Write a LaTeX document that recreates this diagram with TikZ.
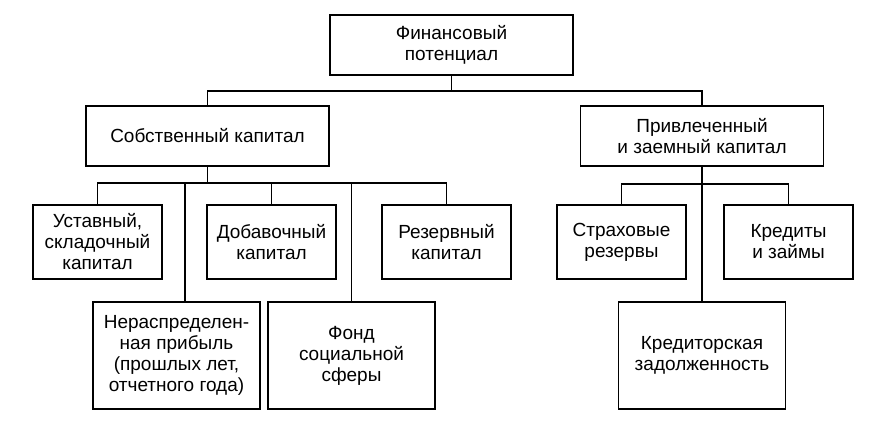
\documentclass[tikz,border=0pt]{standalone}
\usepackage{fontspec}
\setmainfont{Liberation Sans}
\usetikzlibrary{positioning}

\begin{document}
\begin{tikzpicture}[x=1pt,y=-1pt,node distance=175pt,
	box/.style={draw,line width=1.5pt,align=center,inner sep=2pt,font=\fontsize{19}{21}\selectfont},
	small/.style={box,minimum width=129pt,minimum height=74pt},
	big/.style={box,minimum width=167pt,minimum height=107pt},
	head/.style={box,minimum width=243pt,minimum height=60pt},
	link/.style={line width=1.5pt}]
	\useasboundingbox (0,0) rectangle (874,424);
	% top levels
	\node(fin)[head] at (451.5,45){Финансовый\\потенциал};
	\node(own)[head] at (207.5,136){Собственный капитал};
	\node(borr)[head] at (702,136){Привлеченный\\и заемный капитал};
	% own capital
	\node(ust)[small] at (97.5,242){Уставный,\\складочный\\капитал};
	\node(dob)[small,right of=ust,node distance=174pt]{Добавочный\\капитал};
	\node(rez)[small,right of=dob]{Резервный\\капитал};
	\node(nerasp)[big] at (176.5,355.5){Нераспределен-\\ная прибыль\\(прошлых лет,\\отчетного года)};
	\node(fond)[big,right of=nerasp]{Фонд\\социальной\\сферы};
	% borrowed capital
	\node(strakh)[small] at (621.5,242){Страховые\\резервы};
	\node(kredity)[small,right of=strakh,node distance=167pt]{Кредиты\\и займы};
	\node(kreditor)[big] at (702,355.5){Кредиторская\\задолженность};

	\draw[link] (fin.south) -- ++(0,15) coordinate(j0);
	\draw[link] (own.north) |- (j0) -| (borr.north);
	\draw[link] (own.south) -- ++(0,16) coordinate(j1);
	\draw[link] (ust.north) |- (j1) -| (rez.north);
	\draw[link] (dob.north) -- (dob.north |- j1);
	\draw[link] ([xshift=8.5pt]nerasp.north) -- ([xshift=8.5pt]nerasp.north |- j1);
	\draw[link] (fond.north) -- (fond.north |- j1);
	\draw[link] (borr.south) -- ++(0,17) coordinate(j2);
	\draw[link] (strakh.north) |- (j2) -| (kredity.north);
	\draw[link] (borr.south) -- (kreditor.north);
\end{tikzpicture}
\end{document}
